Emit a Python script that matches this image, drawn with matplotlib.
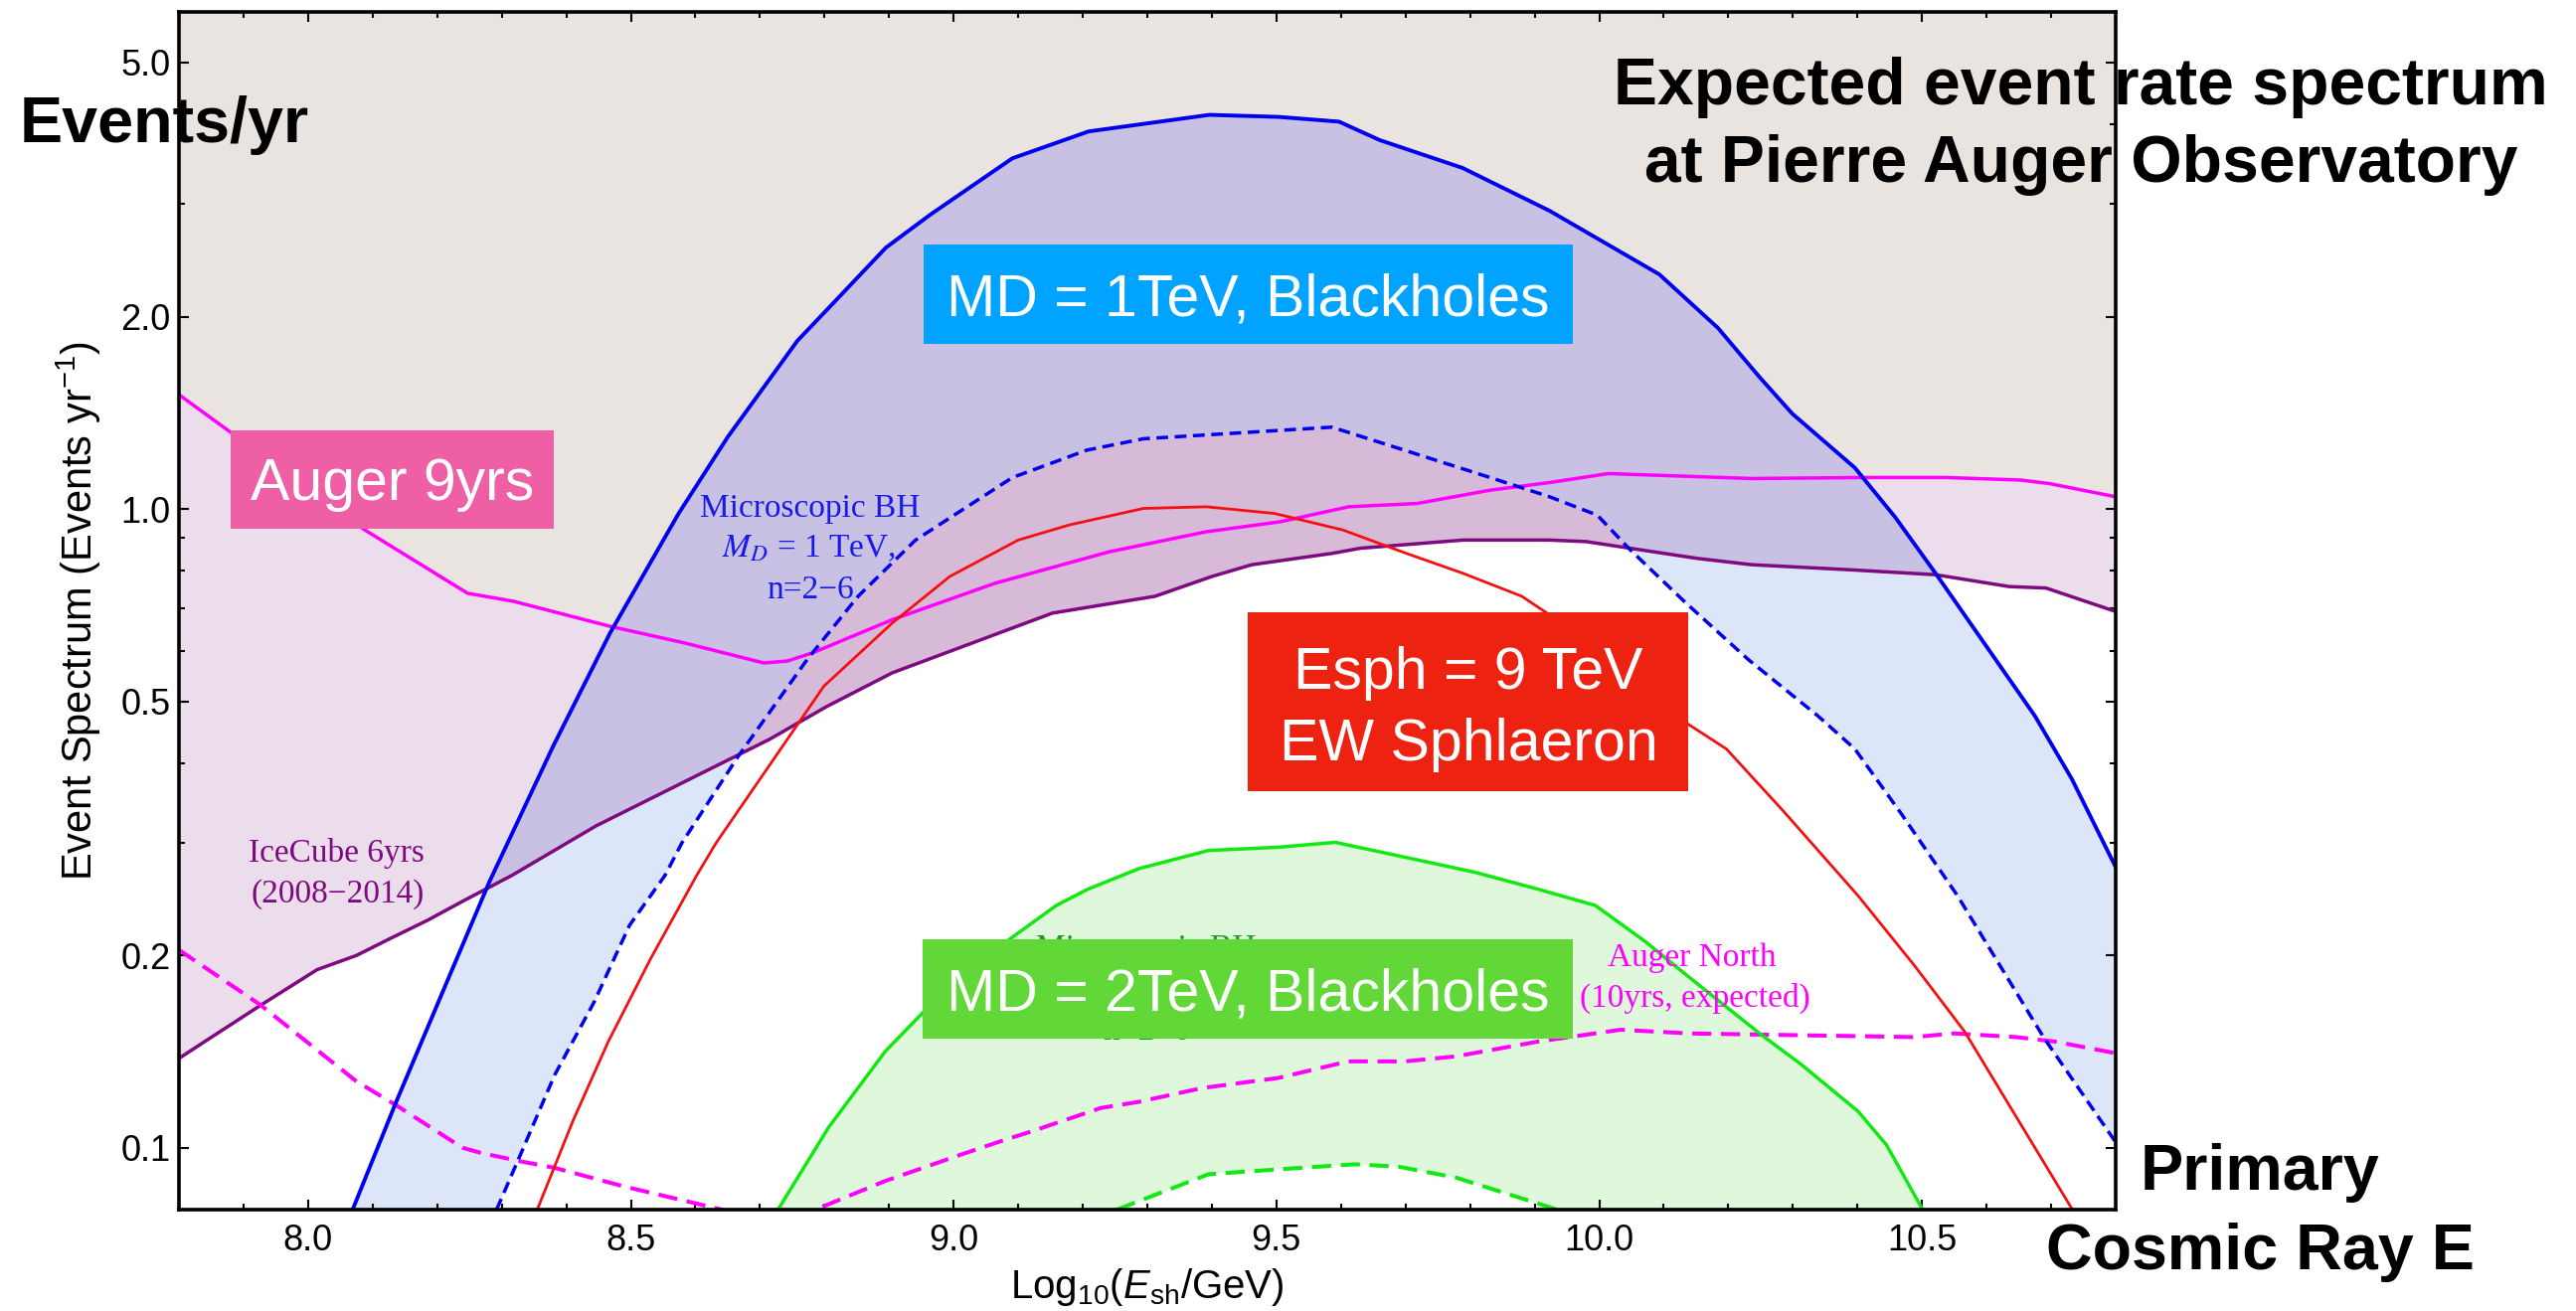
import numpy as np
import matplotlib
matplotlib.use("Agg")
import matplotlib.pyplot as plt
from matplotlib.patches import Rectangle
from matplotlib.ticker import FixedLocator, FixedFormatter, NullFormatter

plt.rcParams['font.family'] = ['Liberation Sans', 'DejaVu Sans']
plt.rcParams['mathtext.fontset'] = 'custom'
plt.rcParams['mathtext.rm'] = 'Liberation Sans'
plt.rcParams['mathtext.it'] = 'Liberation Sans:italic'
plt.rcParams['mathtext.bf'] = 'Liberation Sans:bold'

# ---------------- data: log10(E_sh/GeV) vs events per year ----------------
# Microscopic BH, M_D = 1 TeV (upper edge of band, n=6)
bh1_up_x = [8.069, 8.135, 8.206, 8.281, 8.380, 8.468, 8.574, 8.650, 8.758, 8.807,
            8.895, 8.964, 9.091, 9.209, 9.396, 9.503, 9.597, 9.660, 9.788, 9.923,
            10.093, 10.184, 10.248, 10.299, 10.396, 10.458, 10.521, 10.675, 10.732, 10.800]
bh1_up_y = [0.080, 0.117, 0.173, 0.261, 0.426, 0.640, 0.984, 1.296, 1.834, 2.067,
            2.565, 2.89, 3.54, 3.90, 4.14, 4.11, 4.04, 3.78, 3.42, 2.93,
            2.33, 1.92, 1.61, 1.41, 1.16, 0.972, 0.793, 0.474, 0.378, 0.275]
# Microscopic BH, M_D = 1 TeV (lower edge of band, n=2)
bh1_lo_x = [8.292, 8.327, 8.382, 8.443, 8.498, 8.553, 8.579, 8.667, 8.773, 8.852,
            8.941, 9.091, 9.206, 9.294, 9.418, 9.586, 9.683, 9.831, 9.923, 9.997,
            10.048, 10.134, 10.231, 10.339, 10.396, 10.470, 10.555, 10.689, 10.800]
bh1_lo_y = [0.080, 0.0965, 0.130, 0.169, 0.223, 0.267, 0.300, 0.411, 0.581, 0.730,
            0.894, 1.12, 1.236, 1.288, 1.311, 1.343, 1.25, 1.12, 1.045, 0.978,
            0.863, 0.713, 0.581, 0.474, 0.421, 0.331, 0.248, 0.1485, 0.102]
# Microscopic BH, M_D = 2 TeV
bh2_up_x = [8.728, 8.806, 8.894, 8.953, 9.081, 9.159, 9.208, 9.287, 9.395, 9.503,
            9.591, 9.699, 9.807, 9.905, 9.994, 10.072, 10.139, 10.252, 10.313, 10.401,
            10.445, 10.501]
bh2_up_y = [0.080, 0.1075, 0.1415, 0.163, 0.210, 0.2395, 0.254, 0.2735, 0.292, 0.2954,
            0.3007, 0.285, 0.270, 0.254, 0.2395, 0.210, 0.185, 0.150, 0.135, 0.114,
            0.101, 0.080]
bh2_lo_x = [9.253, 9.395, 9.503, 9.621, 9.689, 9.778, 9.935]
bh2_lo_y = [0.080, 0.0909, 0.0925, 0.0942, 0.0934, 0.0898, 0.080]
# EW sphaleron, E_sph = 9 TeV
sph_x = [8.355, 8.410, 8.465, 8.531, 8.602, 8.632, 8.799, 8.905, 8.994, 9.100,
         9.179, 9.294, 9.391, 9.497, 9.603, 9.700, 9.789, 9.880, 9.919, 10.134,
         10.197, 10.287, 10.401, 10.488, 10.566, 10.733]
sph_y = [0.080, 0.110, 0.1466, 0.198, 0.267, 0.300, 0.528, 0.663, 0.784, 0.894,
         0.944, 1.002, 1.008, 0.984, 0.927, 0.853, 0.793, 0.730, 0.687, 0.463,
         0.421, 0.335, 0.248, 0.193, 0.152, 0.080]
# Auger 9 yrs limit
auger_x = [7.800, 8.088, 8.247, 8.318, 8.468, 8.583, 8.706, 8.742, 8.781, 8.905,
           9.064, 9.241, 9.391, 9.506, 9.612, 9.718, 9.831, 9.923, 10.014, 10.236,
           10.407, 10.538, 10.652, 10.697, 10.800]
auger_y = [1.51, 0.927, 0.738, 0.717, 0.655, 0.617, 0.574, 0.578, 0.595, 0.671,
           0.765, 0.857, 0.921, 0.955, 1.008, 1.020, 1.07, 1.10, 1.136, 1.116,
           1.12, 1.12, 1.11, 1.096, 1.045]
# IceCube 6 yrs (2008-2014) limit
icecube_x = [7.800, 7.855, 7.926, 8.014, 8.075, 8.129, 8.185, 8.239, 8.316, 8.446,
             8.592, 8.715, 8.804, 8.905, 9.153, 9.312, 9.400, 9.462, 9.586, 9.630,
             9.789, 9.923, 9.980, 10.151, 10.236, 10.390, 10.521, 10.635, 10.692, 10.800]
icecube_y = [0.138, 0.150, 0.167, 0.190, 0.200, 0.213, 0.227, 0.243, 0.267, 0.319,
             0.378, 0.436, 0.491, 0.554, 0.687, 0.730, 0.784, 0.818, 0.852, 0.868,
             0.894, 0.894, 0.889, 0.837, 0.818, 0.803, 0.789, 0.756, 0.752, 0.691]
# Auger North, 10 yrs expected
north_x = [7.800, 7.926, 8.075, 8.135, 8.239, 8.267, 8.327, 8.382, 8.487, 8.641,
           8.710, 8.786, 8.894, 9.012, 9.081, 9.120, 9.228, 9.287, 9.385, 9.503,
           9.611, 9.699, 9.778, 9.905, 10.033, 10.139, 10.488, 10.549, 10.646, 10.706,
           10.800]
north_y = [0.204, 0.1674, 0.127, 0.1168, 0.100, 0.0982, 0.0953, 0.093, 0.0871, 0.080,
           0.075, 0.080, 0.0887, 0.0976, 0.103, 0.106, 0.1154, 0.118, 0.124, 0.1286,
           0.1365, 0.1365, 0.139, 0.1466, 0.153, 0.151, 0.149, 0.151, 0.149, 0.1466,
           0.1406]

x_major = [8.0, 8.5, 9.0, 9.5, 10.0, 10.5]
x_major_labels = ["8.0", "8.5", "9.0", "9.5", "10.0", "10.5"]
y_major = [0.1, 0.2, 0.5, 1.0, 2.0, 5.0]
y_major_labels = ["0.1", "0.2", "0.5", "1.0", "2.0", "5.0"]
y_minor = [0.3, 0.4, 0.6, 0.7, 0.8, 0.9, 3.0, 4.0]

# ---------------- colours ----------------
C_BLUE = '#0000EE'
C_RED = '#F51010'
C_MAG = '#FF00FF'
C_PURPLE = '#7E0A80'
C_GREEN = '#12E812'
F_LAVENDER = '#EBDDEB'
F_BEIGE = '#E9E4DF'
F_LIGHTBLUE = '#DCE6F8'
F_BAND = '#C8C1E3'
F_PINK = '#D7B9D8'
F_GREEN = '#DFF8DC'

W, H, DPI = 2591, 1319, 100
fig = plt.figure(figsize=(W / DPI, H / DPI), dpi=DPI)
L, R, T, B = 180, 2128, 12, 1217
ax = fig.add_axes([L / W, (H - B) / H, (R - L) / W, (B - T) / H])
ax.set_yscale('log')
ax.set_xlim(7.8, 10.8)
ax.set_ylim(0.08, 6.0)

# ---------------- filled regions ----------------
xg = np.linspace(7.8, 10.8, 6001)


def on_grid(x, y, left=None, right=None):
    ly = np.log10(y)
    return np.interp(xg, x, ly,
                     left=ly[0] if left is None else left,
                     right=ly[-1] if right is None else right)


P = on_grid(icecube_x, icecube_y)
M = on_grid(auger_x, auger_y)
S = on_grid(bh1_up_x, bh1_up_y, left=-4)
D = on_grid(bh1_lo_x, bh1_lo_y, left=-4)
G = on_grid(bh2_up_x, bh2_up_y, left=-4, right=-4)
Gd = on_grid(bh2_lo_x, bh2_lo_y, left=-4, right=-4)
TOP = 2.0

kw = dict(lw=0, interpolate=True, zorder=1)
ax.fill_between(xg, 10 ** P, 10 ** TOP, color=F_LAVENDER, **kw)
ax.fill_between(xg, 10 ** M, 10 ** TOP, color=F_BEIGE, **kw)
hi = np.minimum(S, P)
ax.fill_between(xg, 10 ** D, 10 ** hi, where=hi > D, color=F_LIGHTBLUE, **kw)
lo2 = np.maximum(D, P)
ax.fill_between(xg, 10 ** lo2, 10 ** S, where=S > lo2, color=F_BAND, **kw)
ax.fill_between(xg, 10 ** P, 10 ** D, where=D > P, color=F_PINK, **kw)
ax.fill_between(xg, 10 ** Gd, 10 ** G, where=G > Gd, color=F_GREEN, **kw)

# ---------------- curves ----------------
ax.plot(icecube_x, icecube_y, color=C_PURPLE, lw=2.5, zorder=3)
ax.plot(auger_x, auger_y, color=C_MAG, lw=2.5, zorder=3)
ax.plot(north_x, north_y, color=C_MAG, lw=2.9, ls=(0, (4.8, 2.4)), zorder=3)
ax.plot(bh1_up_x, bh1_up_y, color=C_BLUE, lw=2.8, zorder=4)
ax.plot(bh1_lo_x, bh1_lo_y, color=C_BLUE, lw=2.5, ls=(0, (3.4, 1.9)), zorder=4)
ax.plot(sph_x, sph_y, color=C_RED, lw=2.0, zorder=4)
ax.plot(bh2_up_x, bh2_up_y, color=C_GREEN, lw=2.5, zorder=4)
ax.plot(bh2_lo_x, bh2_lo_y, color=C_GREEN, lw=2.9, ls=(0, (4.8, 2.4)), zorder=4)

# ---------------- axes styling ----------------
ax.xaxis.set_major_locator(FixedLocator(x_major))
ax.xaxis.set_major_formatter(FixedFormatter(x_major_labels))
ax.xaxis.set_minor_locator(FixedLocator(np.round(np.arange(7.8, 10.81, 0.1), 2)))
ax.xaxis.set_minor_formatter(NullFormatter())
ax.yaxis.set_major_locator(FixedLocator(y_major))
ax.yaxis.set_major_formatter(FixedFormatter(y_major_labels))
ax.yaxis.set_minor_locator(FixedLocator(y_minor))
ax.yaxis.set_minor_formatter(NullFormatter())
ax.tick_params(which='both', direction='in', top=True, right=True,
               width=1.5, labelsize=26, color='black')
ax.tick_params(which='major', length=7)
ax.tick_params(which='minor', length=4.5)
ax.tick_params(axis='x', pad=10)
ax.tick_params(axis='y', pad=6)
for sp in ax.spines.values():
    sp.set_linewidth(2.6)
    sp.set_zorder(6)

ax.set_ylabel("Event Spectrum (Events yr$^{-1}$)", fontsize=30)
ax.yaxis.set_label_coords(-0.039, 0.5)
ax.set_xlabel("Log$_{10}$($E_{\\mathrm{sh}}$/GeV)", fontsize=29)
ax.xaxis.set_label_coords(0.5, -0.047)


# ---------------- annotations (figure pixel positions) ----------------
def ftext(px, py, s, **kw):
    return fig.text(px / W, 1 - py / H, s, **kw)


def fbox(x0, y0, x1, y1, color):
    fig.add_artist(Rectangle((x0 / W, 1 - y1 / H), (x1 - x0) / W, (y1 - y0) / H,
                             transform=fig.transFigure, facecolor=color,
                             edgecolor='none', zorder=5))


serif = dict(family=['Liberation Serif', 'DejaVu Serif'], fontsize=24,
             ha='center', va='baseline', zorder=4)
ftext(815, 520, "Microscopic BH", color='#1A1AE6', **serif)
ftext(813, 560, "$M_D$ = 1 TeV,", color='#1A1AE6', math_fontfamily='stix', **serif)
ftext(815, 602, "n=2\u22126", color='#1A1AE6', **serif)
# green label for the M_D = 2 TeV curves, mostly covered by the box below
ftext(1153, 963, "Microscopic BH", color='#1E9A1E', **serif)
ftext(1151, 1003, "$M_D$ = 2 TeV,", color='#1E9A1E', math_fontfamily='stix', **serif)
ftext(1153, 1046, "n=2\u22126", color='#1E9A1E', **serif)
ftext(338, 867, "IceCube 6yrs", color=C_PURPLE, **serif)
ftext(340, 908, "(2008\u22122014)", color=C_PURPLE, **serif)
ftext(1702, 972, "Auger North", color=C_MAG, **serif)
ftext(1705, 1013, "(10yrs, expected)", color=C_MAG, **serif)

box_txt = dict(color='white', fontsize=42.5, ha='center', va='baseline', zorder=6)
fbox(929, 246, 1582, 346, '#00A3FF')
ftext(1255, 317, "MD = 1TeV, Blackholes", **box_txt)
fbox(232, 433, 557, 532, '#EF5FA6')
ftext(395, 503, "Auger 9yrs", **box_txt)
fbox(1255, 616, 1698, 796, '#EE2211')
ftext(1477, 693, "Esph = 9 TeV", **box_txt)
ftext(1477, 765, "EW Sphlaeron", **box_txt)
fbox(928, 945, 1582, 1045, '#62D838')
ftext(1255, 1017, "MD = 2TeV, Blackholes", **box_txt)

bold = dict(color='black', fontweight='bold', va='baseline', zorder=7)
ftext(20, 143, "Events/yr", fontsize=46.5, ha='left', **bold)
ftext(2093, 105, "Expected event rate spectrum", fontsize=47.5, ha='center', **bold)
ftext(2093, 183, "at Pierre Auger Observatory", fontsize=47.5, ha='center', **bold)
ftext(2273, 1197, "Primary", fontsize=46.5, ha='center', **bold)
ftext(2273, 1277, "Cosmic Ray E", fontsize=46.5, ha='center', **bold)

fig.savefig("out.png", dpi=DPI, facecolor='white')
